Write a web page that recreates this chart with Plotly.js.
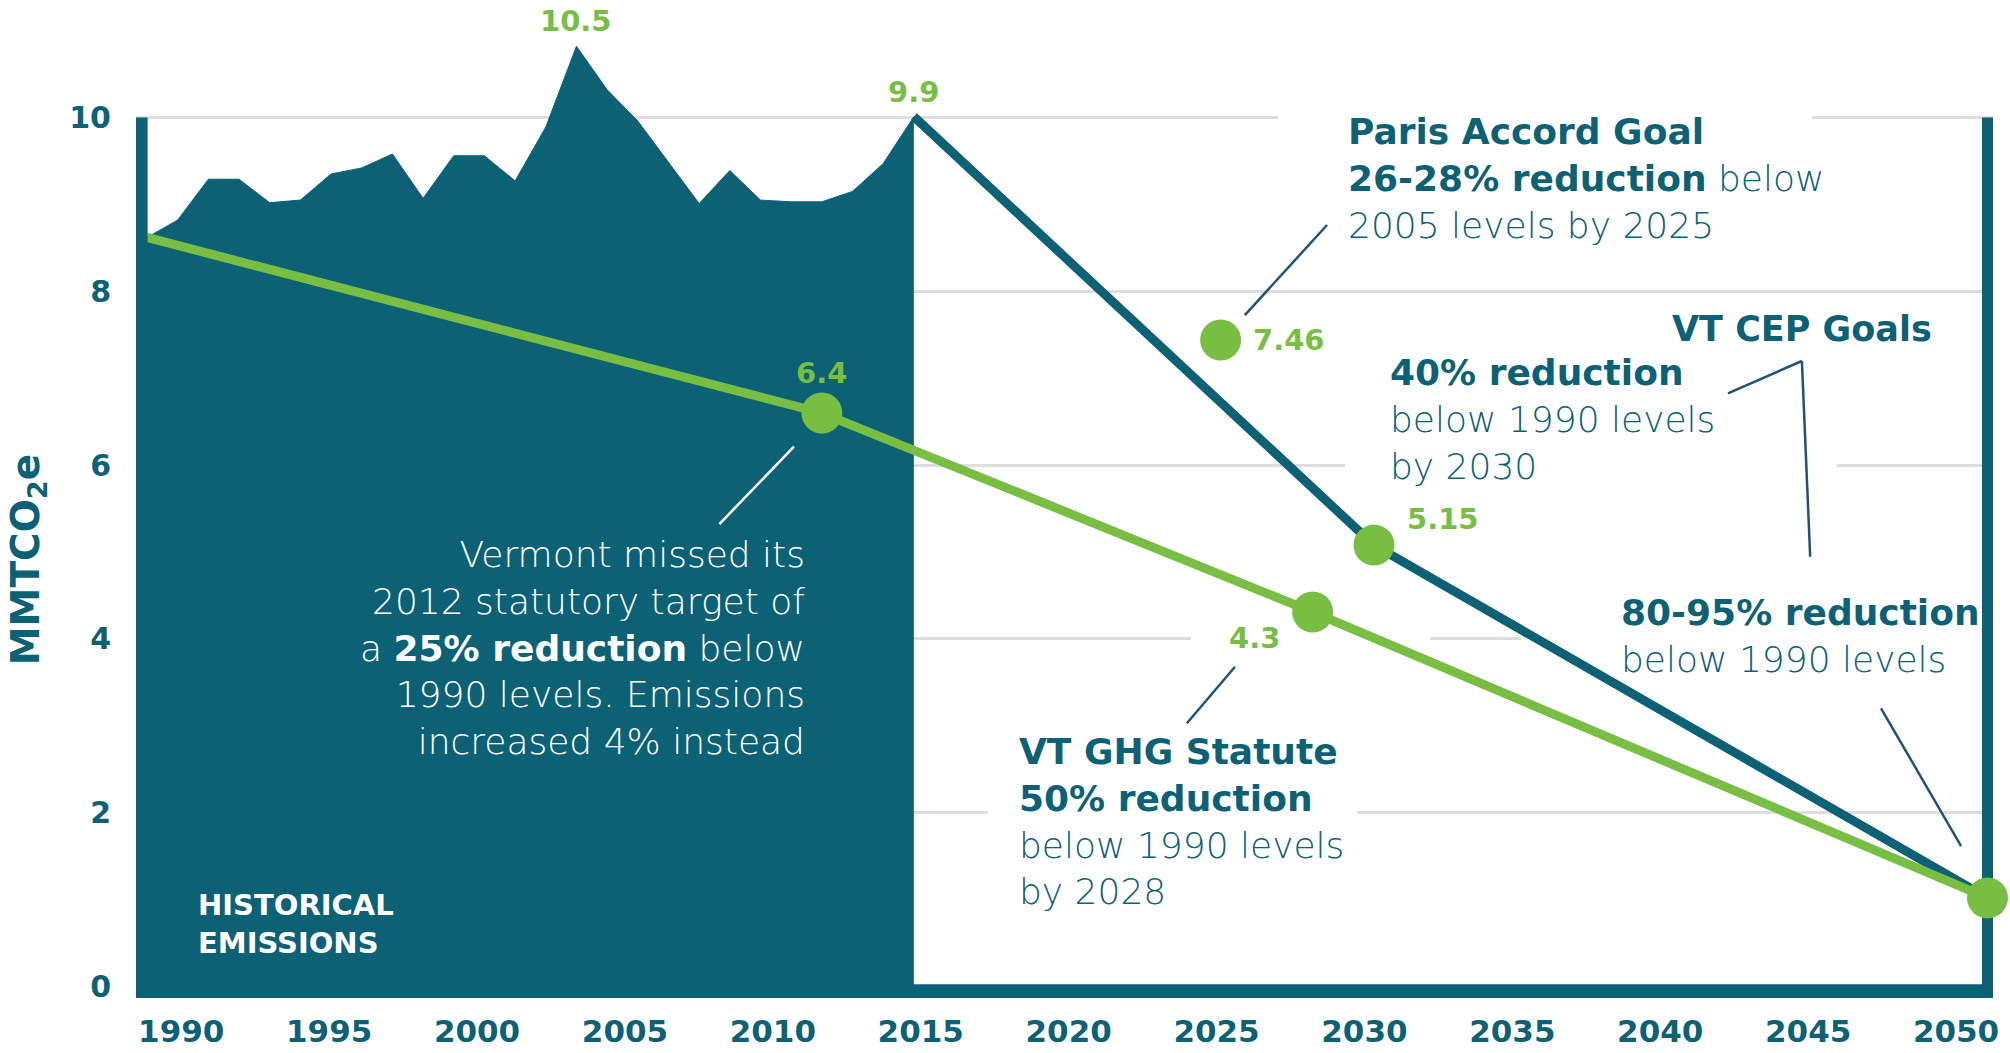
<!DOCTYPE html>
<html><head><meta charset="utf-8">
<script src="https://cdn.plot.ly/plotly-3.0.1.min.js"></script>
</head><body style="margin:0;background:#fff">
<div id="chart" style="width:2010px;height:1053px"></div>
<script>
// ---- Data ----
const histYears = [1990,1991,1992,1993,1994,1995,1996,1997,1998,1999,2000,2001,2002,2003,2004,2005,2006,2007,2008,2009,2010,2011,2012,2013,2014,2015];
const histValues = [8.62,8.82,9.29,9.29,9.02,9.05,9.35,9.42,9.58,9.07,9.56,9.56,9.27,9.89,10.82,10.32,9.96,9.49,9.01,9.39,9.05,9.03,9.03,9.15,9.47,10.01];

const cepYears = [2015, 2030, 2050];
const cepValues = [10.01, 5.08, 1.02];

const statuteYears = [1990, 2012, 2028, 2050];
const statuteValues = [8.62, 6.60, 4.31, 1.02];

const goalYears = [2012, 2025, 2028, 2030, 2050];
const goalValues = [6.60, 7.44, 4.31, 5.08, 1.02];
const goalLabels = ["6.4", "7.46", "4.3", "5.15", ""];

const peakYears = [2004, 2015];
const peakValues = [10.82, 10.01];
const peakLabels = ["10.5", "9.9"];

const xTickYears = [1990,1995,2000,2005,2010,2015,2020,2025,2030,2035,2040,2045,2050];
const yTickValues = [0,2,4,6,8,10];

// ---- Styles ----
const TEAL = '#0d6175';
const GREEN = '#78be43';
const GRID = '#dddddd';
const POINTER = '#1f5274';
const FONT = 'DejaVu Sans';
const TXT = 36;

const traces = [
  {x: histYears, y: histValues, type:'scatter', mode:'lines', fill:'tozeroy',
   fillcolor: TEAL, line:{color:TEAL, width:1}, hoverinfo:'skip', showlegend:false},
  {x: cepYears, y: cepValues, type:'scatter', mode:'lines',
   line:{color:TEAL, width:9}, hoverinfo:'skip', showlegend:false},
  {x: statuteYears, y: statuteValues, type:'scatter', mode:'lines',
   line:{color:GREEN, width:9}, hoverinfo:'skip', showlegend:false},
  {x: goalYears, y: goalValues, type:'scatter', mode:'markers', cliponaxis:false,
   marker:{color:GREEN, size:41, line:{width:0}}, hoverinfo:'skip', showlegend:false},
  // carrier for the tick-label axis (no visible marks)
  {x: xTickYears, y: xTickYears.map(()=>null), xaxis:'x2', yaxis:'y', type:'scatter', mode:'none',
   hoverinfo:'skip', showlegend:false}
];

// value labels tied to data points (offsets in px)
const goalOffsets = [[0,40,'center'],[30,0,'left'],[-58,-26,'center'],[31,26,'left'],[0,0,'center']];
const annotations = [];
goalYears.forEach((yr,i)=>{
  if(!goalLabels[i]) return;
  annotations.push({x:yr, y:goalValues[i], xref:'x', yref:'y', text:'<b>'+goalLabels[i]+'</b>',
    showarrow:false, xanchor:goalOffsets[i][2], yanchor:'middle',
    xshift:goalOffsets[i][0], yshift:goalOffsets[i][1],
    font:{family:FONT, size:29, color:GREEN}});
});
peakYears.forEach((yr,i)=>{
  annotations.push({x:yr, y:peakValues[i], xref:'x', yref:'y', text:'<b>'+peakLabels[i]+'</b>',
    showarrow:false, xanchor:'center', yanchor:'middle', yshift:25,
    font:{family:FONT, size:29, color:GREEN}});
});

function block(x, y, text, xanchor, color, size){
  return {x:x, y:y, xref:'x', yref:'y', text:text, showarrow:false, xanchor:xanchor, yanchor:'middle',
    align:xanchor, font:{family:FONT, size:size||TXT, weight:200, color:color||TEAL}};
}
annotations.push(block(2029.09, 9.30, '<b>Paris Accord Goal</b><br><b>26-28% reduction</b> below<br>2005 levels by 2025', 'left'));
annotations.push(block(2048.25, 7.57, '<b>VT CEP Goals</b>', 'right', TEAL, 35));
annotations.push(block(2030.45, 6.52, '<b>40% reduction</b><br>below 1990 levels<br>by 2030', 'left'));
annotations.push(block(2038.0, 4.03, '<b>80-95% reduction</b><br>below 1990 levels', 'left'));
annotations.push(block(2018.35, 1.90, '<b>VT GHG Statute</b><br><b>50% reduction</b><br>below 1990 levels<br>by 2028', 'left'));
annotations.push(block(2011.50, 3.89, 'Vermont missed its<br>2012 statutory target of<br>a <b>25% reduction</b> below<br>1990 levels. Emissions<br>increased 4% instead', 'right', '#ffffff'));
annotations.push(block(1991.60, 0.72, '<b>HISTORICAL</b><br><b>EMISSIONS</b>', 'left', '#ffffff', 29));
// y axis title
annotations.push({x:-0.0585, y:4.91, xref:'paper', yref:'y', text:'<b>MMTCO<sub>2</sub>e</b>', showarrow:false,
  textangle:-90, xanchor:'center', yanchor:'middle', font:{family:FONT, size:39, color:TEAL}});

// shapes: gridline gaps (masks), frame, pointer lines
const shapes = [];
function mask(x0,x1,yc){ shapes.push({type:'rect', xref:'x', yref:'y', x0:x0, x1:x1, y0:yc-0.15, y1:yc+0.15,
  fillcolor:'#ffffff', line:{width:0}, layer:'between'}); }
mask(2026.87, 2044.28, 10);
mask(2029.05, 2045.09, 6);
mask(2024.03, 2031.83, 4);
mask(2034.79, 2050.3, 4);
mask(2017.42, 2029.45, 2);
// frame
shapes.push({type:'rect', xref:'x', yref:'y', x0:1989.6, x1:1990.02, y0:-0.2, y1:10, fillcolor:TEAL, line:{width:0}, layer:'above'});
shapes.push({type:'rect', xref:'x', yref:'y', x0:2049.82, x1:2050.18, y0:-0.2, y1:10, fillcolor:TEAL, line:{width:0}, layer:'between'});
shapes.push({type:'rect', xref:'paper', yref:'y', x0:0, x1:1, y0:-0.2, y1:0.025, fillcolor:TEAL, line:{width:0}, layer:'above'});
function pointer(x0,y0,x1,y1,color){ shapes.push({type:'line', xref:'x', yref:'y', x0:x0,y0:y0,x1:x1,y1:y1,
  line:{color:color||POINTER, width:2.5}, layer:'above'}); }
pointer(2028.47, 8.763, 2025.79, 7.727);
pointer(2011.09, 6.212, 2008.66, 5.322, '#ffffff');
pointer(2025.47, 3.680, 2023.90, 3.029);
pointer(2041.54, 6.826, 2043.95, 7.198);
pointer(2043.95, 7.198, 2044.22, 4.946);
pointer(2046.53, 3.201, 2049.14, 1.617);

const layout = {
  width:2010, height:1053,
  margin:{l:136, r:17, t:30, b:55},
  paper_bgcolor:'#ffffff', plot_bgcolor:'#ffffff',
  showlegend:false,
  xaxis:{range:[1989.641, 2050.18], visible:false, fixedrange:true},
  xaxis2:{overlaying:'x', anchor:'y', side:'bottom', range:[1988.47, 2051.25],
    tickmode:'array', tickvals:xTickYears, ticktext:xTickYears.map(String),
    ticks:'outside', ticklen:6, tickcolor:'rgba(0,0,0,0)',
    showgrid:false, zeroline:false, showline:false, fixedrange:true,
    tickfont:{family:FONT, size:31, weight:'bold', color:TEAL}},
  yaxis:{range:[-0.132, 11.007], tickmode:'array', tickvals:yTickValues,
    showgrid:true, gridcolor:GRID, gridwidth:3, zeroline:false, showline:false,
    ticks:'outside', ticklen:18, tickcolor:'rgba(0,0,0,0)', fixedrange:true,
    tickfont:{family:FONT, size:30, weight:'bold', color:TEAL}},
  annotations:annotations,
  shapes:shapes
};
Plotly.newPlot('chart', traces, layout, {displayModeBar:false, staticPlot:true});
</script></body></html>
